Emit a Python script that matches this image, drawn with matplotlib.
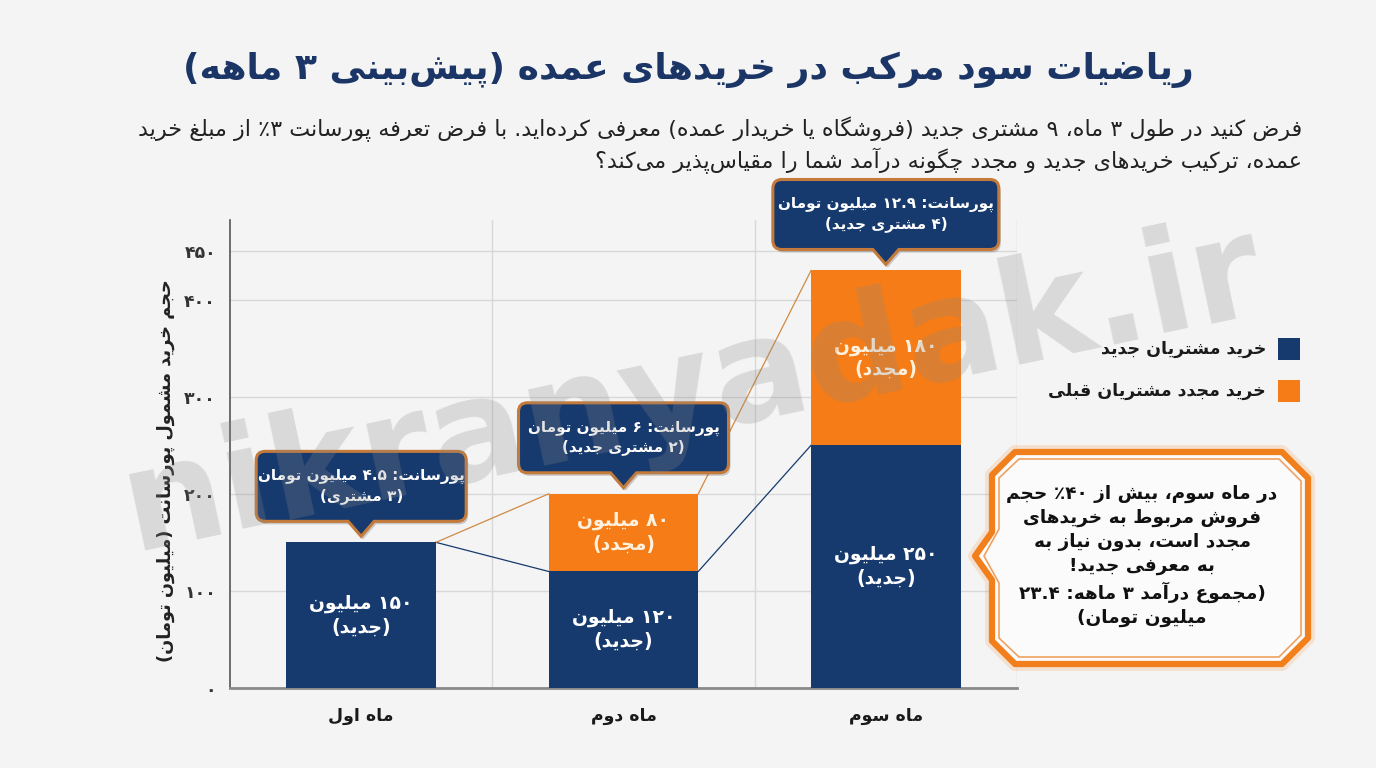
import re
import matplotlib
matplotlib.use('Agg')
import matplotlib.pyplot as plt
from matplotlib.patches import PathPatch, Rectangle, Polygon
from matplotlib.path import Path

# ---- data ----
months = ['ماه اول', 'ماه دوم', 'ماه سوم']
new_sales = [150, 120, 250]
repeat_sales = [0, 80, 180]
new_labels = ['۱۵۰ میلیون\n(جدید)', '۱۲۰ میلیون\n(جدید)', '۲۵۰ میلیون\n(جدید)']
repeat_labels = ['', '۸۰ میلیون\n(مجدد)', '۱۸۰ میلیون\n(مجدد)']
commission_notes = ['پورسانت: ۴.۵ میلیون تومان\n(۳ مشتری)',
                    'پورسانت: ۶ میلیون تومان\n(۲ مشتری جدید)',
                    'پورسانت: ۱۲.۹ میلیون تومان\n(۴ مشتری جدید)']
y_ticks = [0, 100, 200, 300, 400, 450]
legend_labels = ['خرید مشتریان جدید', 'خرید مجدد مشتریان قبلی']
title = 'ریاضیات سود مرکب در خریدهای عمده (پیش\u200cبینی ۳ ماهه)'
subtitle = ('فرض کنید در طول ۳ ماه، ۹ مشتری جدید (فروشگاه یا خریدار عمده) معرفی کرده\u200cاید. با فرض تعرفه پورسانت ۳٪ از مبلغ خرید\n'
            'عمده، ترکیب خریدهای جدید و مجدد چگونه درآمد شما را مقیاس\u200cپذیر می\u200cکند؟')
ylabel = 'حجم خرید مشمول پورسانت (میلیون تومان)'
callout = ('در ماه سوم، بیش از ۴۰٪ حجم\nفروش مربوط به خریدهای\nمجدد است، بدون نیاز به\n'
           'به معرفی جدید!\n(مجموع درآمد ۳ ماهه: ۲۳.۴\nمیلیون تومان)')

NAVY = '#173a6e'
ORANGE = '#f57c16'

# ---- minimal Persian shaping + RTL ordering (matplotlib has no bidi) ----
DUAL = {'ب': 0xFE8F, 'ت': 0xFE95, 'ث': 0xFE99, 'ج': 0xFE9D, 'ح': 0xFEA1, 'خ': 0xFEA5,
        'س': 0xFEB1, 'ش': 0xFEB5, 'ص': 0xFEB9, 'ض': 0xFEBD, 'ط': 0xFEC1, 'ظ': 0xFEC5,
        'ع': 0xFEC9, 'غ': 0xFECD, 'ف': 0xFED1, 'ق': 0xFED5, 'ل': 0xFEDD, 'م': 0xFEE1,
        'ن': 0xFEE5, 'ه': 0xFEE9, 'ئ': 0xFE89, 'پ': 0xFB56, 'چ': 0xFB7A, 'ک': 0xFB8E,
        'گ': 0xFB92, 'ی': 0xFBFC}
RIGHT = {'ا': 0xFE8D, 'آ': 0xFE81, 'د': 0xFEA9, 'ذ': 0xFEAB, 'ر': 0xFEAD, 'ز': 0xFEAF,
         'و': 0xFEED, 'ژ': 0xFB8A}
MIRROR = str.maketrans('()', ')(')
NUM = re.compile('[0-9\u06f0-\u06f9]+(?:\\.[0-9\u06f0-\u06f9]+)*')


def shape(line):
    out = []
    for i, c in enumerate(line):
        code = DUAL.get(c, RIGHT.get(c))
        if code is None:
            if c != '\u200c':
                out.append(c)
            continue
        prev = line[i - 1] if i > 0 else ''
        nxt = line[i + 1] if i + 1 < len(line) else ''
        jp = prev in DUAL
        jn = c in DUAL and (nxt in DUAL or nxt in RIGHT)
        if jp and jn:
            code += 3
        elif jp:
            code += 1
        elif jn:
            code += 2
        out.append(chr(code))
    return ''.join(out)


def fa(text):
    lines = []
    for line in text.split('\n'):
        vis = shape(line)[::-1].translate(MIRROR)
        vis = NUM.sub(lambda m: m.group(0)[::-1], vis)
        lines.append(vis)
    return '\n'.join(lines)


def fa_num(v):
    return str(v).translate(str.maketrans('0123456789', '۰۱۲۳۴۵۶۷۸۹'))


plt.rcParams['font.family'] = ['DejaVu Sans']

W, H = 1376, 768
fig = plt.figure(figsize=(W / 100, H / 100), dpi=100, facecolor='#f4f4f4')
ax = fig.add_axes([230 / W, 1 - 688 / H, (1017 - 230) / W, (688 - 220) / H])
ax.set_facecolor('none')

x = list(range(len(months)))
bw = 0.57
ax.bar(x, new_sales, width=bw, color=NAVY, zorder=3)
ax.bar(x, repeat_sales, width=bw, bottom=new_sales, color=ORANGE, zorder=3)

ax.set_xlim(-0.5, 2.5)
ax.set_ylim(0, 482)
ax.set_yticks(y_ticks)
ax.set_yticklabels([fa_num(v) for v in y_ticks], fontsize=12.5, fontweight='bold', color='#333333')
ax.set_xticks(x)
ax.set_xticklabels([fa(m) for m in months], fontsize=12.5, fontweight='bold', color='#1a1a1a')
ax.set_xticks([0.5, 1.5, 2.5], minor=True)
ax.tick_params(axis='both', which='both', length=0)
ax.tick_params(axis='y', pad=10)
ax.tick_params(axis='x', pad=14)
ax.grid(axis='y', color='#d8d8d8', lw=1, zorder=0)
ax.grid(axis='x', which='minor', color='#d8d8d8', lw=1, zorder=0)
for s in ['top', 'right']:
    ax.spines[s].set_visible(False)
ax.spines['left'].set_color('#555555')
ax.spines['left'].set_linewidth(1.2)
ax.spines['bottom'].set_color('#8a8a8a')
ax.spines['bottom'].set_linewidth(2)
ax.set_ylabel(fa(ylabel), fontsize=12.8, fontweight='bold', color='#222222')
ax.yaxis.set_label_coords(-0.07, 0.465)

# connector lines between months
tops = [n + r for n, r in zip(new_sales, repeat_sales)]
for i in range(len(months) - 1):
    ax.plot([i + bw / 2, i + 1 - bw / 2], [new_sales[i], new_sales[i + 1]], color=NAVY, lw=0.9, zorder=2)
    ax.plot([i + bw / 2, i + 1 - bw / 2], [tops[i], tops[i + 1]], color='#d08a45', lw=0.9, zorder=2)

# segment labels
for i in x:
    ax.text(i, new_sales[i] / 2, fa(new_labels[i]), ha='center', va='center', multialignment='center',
            color='white', fontsize=13.5, fontweight='bold', linespacing=1.3, zorder=4)
    if repeat_sales[i]:
        ax.text(i, new_sales[i] + repeat_sales[i] / 2, fa(repeat_labels[i]), ha='center', va='center',
                multialignment='center', color='#fff1de', fontsize=13.5, fontweight='bold',
                linespacing=1.3, zorder=4)

# overlay in pixel coordinates
ov = fig.add_axes([0, 0, 1, 1], zorder=5)
ov.set_xlim(0, W)
ov.set_ylim(H, 0)
ov.axis('off')


def to_px(xv, yv):
    dx, dy = ax.transData.transform((xv, yv))
    return dx, H - dy


def bubble_path(x0, y0, x1, y1, tx, ty, r=9, tw=13):
    M, L, C = Path.MOVETO, Path.LINETO, Path.CURVE3
    verts = [(x0 + r, y0), (x1 - r, y0), (x1, y0), (x1, y0 + r), (x1, y1 - r), (x1, y1), (x1 - r, y1),
             (tx + tw, y1), (tx, ty), (tx - tw, y1), (x0 + r, y1), (x0, y1), (x0, y1 - r),
             (x0, y0 + r), (x0, y0), (x0 + r, y0), (x0 + r, y0)]
    codes = [M, L, C, C, L, C, C, L, L, L, L, C, C, L, C, C, Path.CLOSEPOLY]
    return Path(verts, codes)


box_w = [210, 210, 226]
for i in x:
    cx, ty = to_px(i, tops[i])
    tip = ty - 6
    y1 = ty - 21
    y0 = y1 - 70
    x0, x1 = cx - box_w[i] / 2, cx + box_w[i] / 2
    shadow = bubble_path(x0 + 2, y0 + 3, x1 + 2, y1 + 3, cx + 2, tip + 3)
    ov.add_patch(PathPatch(shadow, facecolor='#000000', alpha=0.18, lw=0))
    ov.add_patch(PathPatch(bubble_path(x0, y0, x1, y1, cx, tip), facecolor=NAVY,
                           edgecolor='#c47a3a', lw=2.2))
    ov.text(cx, (y0 + y1) / 2, fa(commission_notes[i]), ha='center', va='center', multialignment='center',
            color='white', fontsize=11, fontweight='bold', linespacing=1.3)

# title and intro text
ov.text(688, 70, fa(title), ha='center', va='center', fontsize=26, fontweight='bold', color='#1b3566')
ov.text(1302, 145, fa(subtitle), ha='right', va='center', multialignment='right', fontsize=16,
        color='#222222', linespacing=1.3)

# legend
for k, (lab, col) in enumerate(zip(legend_labels, [NAVY, ORANGE])):
    yy = 349 + k * 42
    ov.add_patch(Rectangle((1278, yy - 11), 22, 22, facecolor=col, lw=0))
    ov.text(1266, yy, fa(lab), ha='right', va='center', fontsize=12.5, fontweight='bold', color='#1a1a1a')

# right callout
outer = [(1015, 452), (1282, 452), (1308, 478), (1308, 638), (1282, 664), (1015, 664), (992, 641),
         (992, 580), (975, 556), (992, 532), (992, 475)]
inner = [(1019, 459), (1279, 459), (1301, 481), (1301, 635), (1279, 657), (1019, 657), (999, 638),
         (999, 583), (984, 556), (999, 529), (999, 478)]
ov.add_patch(Polygon(outer, closed=True, facecolor='none', edgecolor='#f5913a', lw=10, alpha=0.2,
                     joinstyle='round'))
ov.add_patch(Polygon(outer, closed=True, facecolor='#fbfbfb', edgecolor='#f07f1c', lw=4.5, joinstyle='round'))
ov.add_patch(Polygon(inner, closed=True, facecolor='none', edgecolor='#f0a060', lw=1.2))
ov.text(1142, 556, fa(callout), ha='center', va='center', multialignment='center', fontsize=13.3,
        fontweight='bold', color='#111111', linespacing=1.4)

# watermark
ov.text(692, 392, 'nikranyadak.ir', rotation=12, fontsize=102, fontweight='bold', color='#8a8a8a',
        alpha=0.25, ha='center', va='center')

fig.savefig('out.png', dpi=100, facecolor=fig.get_facecolor())
